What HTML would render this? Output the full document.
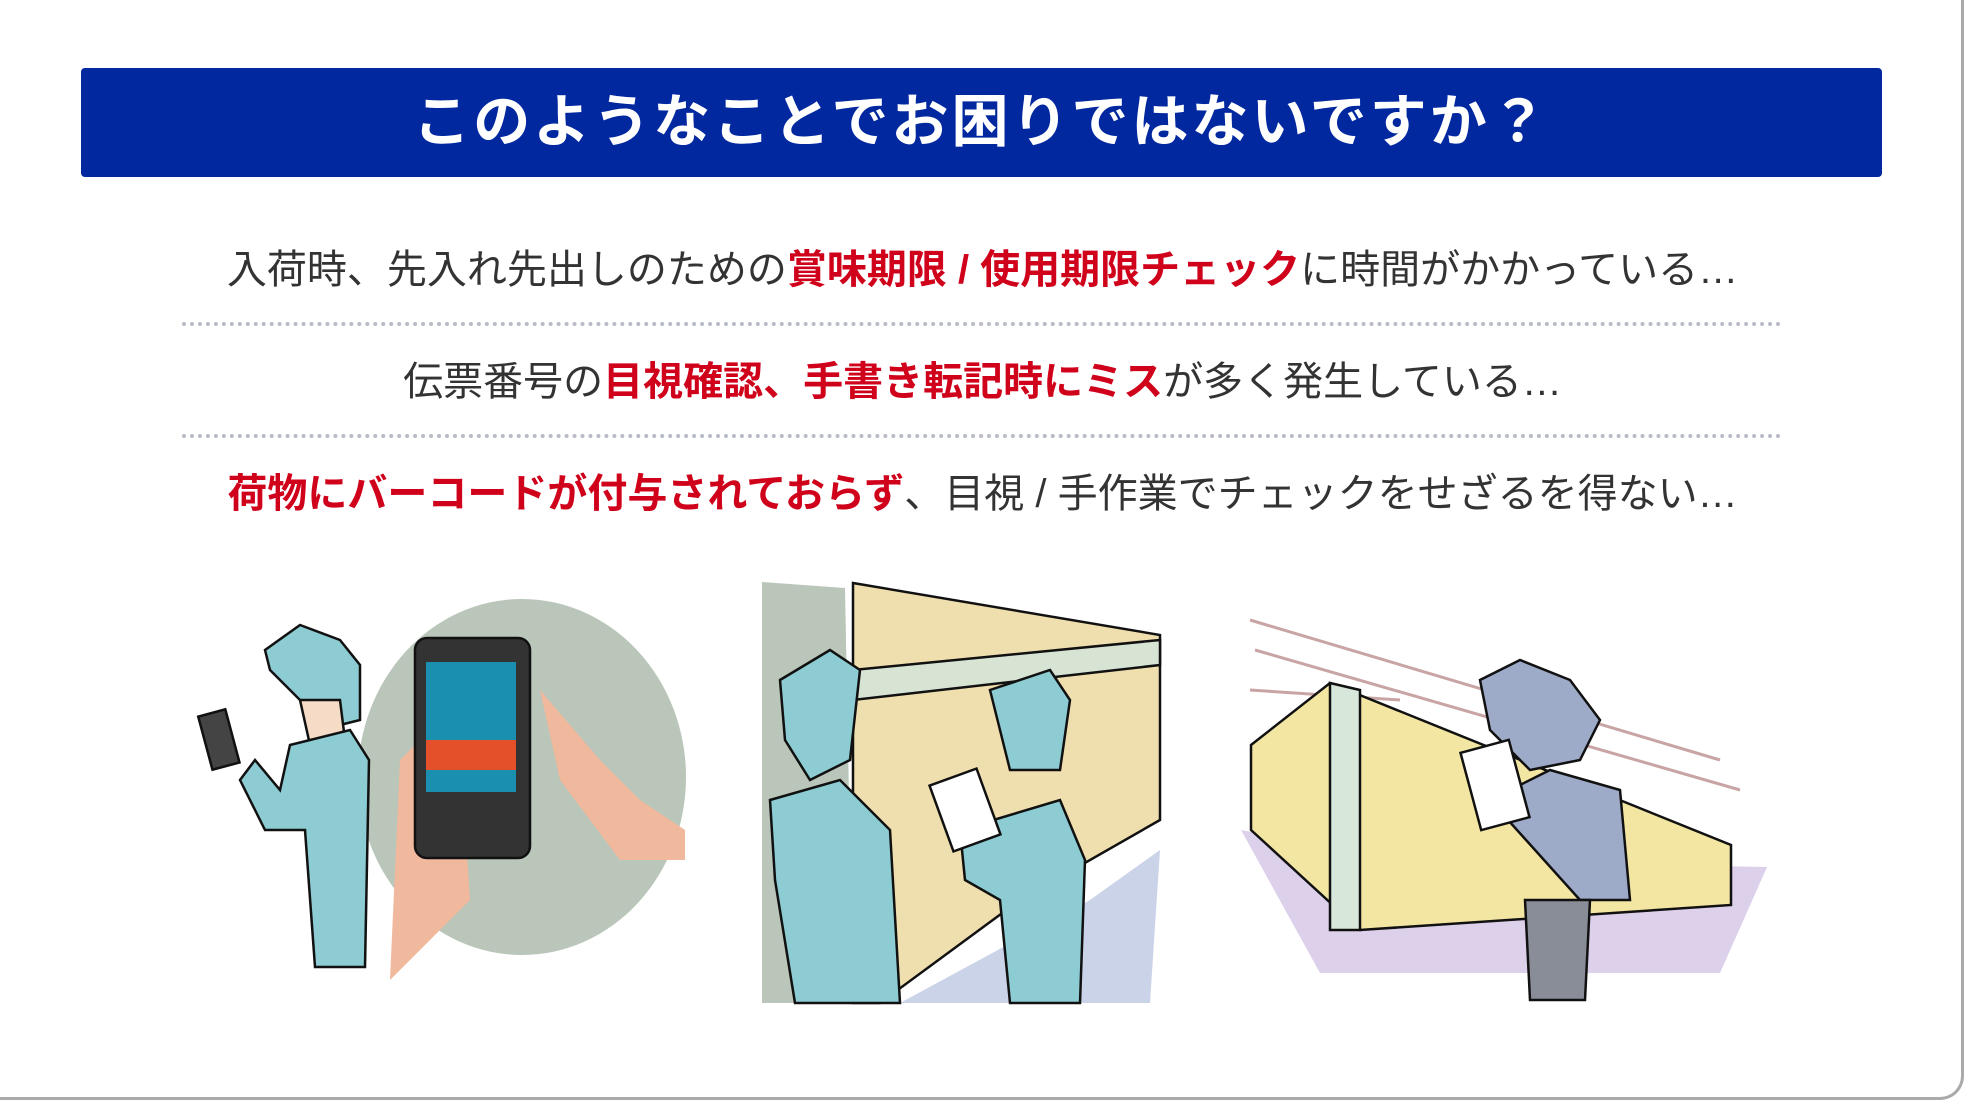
<!DOCTYPE html>
<html><head><meta charset="utf-8"><style>
html,body{margin:0;padding:0;background:#fff;}
body{width:1965px;height:1101px;position:relative;overflow:hidden;font-family:"Liberation Sans","Noto Sans CJK JP",sans-serif;}
.card{position:absolute;left:0;top:0;width:1961px;height:1097px;border-right:3px solid #aaa;border-bottom:3px solid #aaa;border-radius:0 0 24px 0;background:#fff;}
.bar{position:absolute;left:81px;top:68px;width:1801px;height:109px;background:#0228a0;border-radius:4px;color:#fff;font-weight:bold;font-size:57px;text-align:center;line-height:109px;letter-spacing:3px;}
.line{position:absolute;left:0;width:1965px;text-align:center;font-size:40px;color:#333;white-space:nowrap;}
.line b{color:#d0021b;}
.dot{position:absolute;left:182px;width:1600px;border-top:4px dotted #b8bcc4;}
svg{position:absolute;left:0;top:0;}
</style></head><body>
<div class="card"></div>
<div class="bar">このようなことでお困りではないですか？</div>
<div class="line" style="top:237px">入荷時、先入れ先出しのための<b>賞味期限 / 使用期限チェック</b>に時間がかかっている…</div>
<div class="dot" style="top:322px"></div>
<div class="line" style="top:349px">伝票番号の<b>目視確認、手書き転記時にミス</b>が多く発生している…</div>
<div class="dot" style="top:434px"></div>
<div class="line" style="top:461px"><b>荷物にバーコードが付与されておらず</b>、目視 / 手作業でチェックをせざるを得ない…</div>
<svg width="1965" height="1101" stroke="#111" stroke-width="2.5">
<ellipse cx="522" cy="777" rx="164" ry="178" fill="#bac6b9" stroke="none"/>
<path d="M390 980 L400 760 L430 730 L460 750 L470 900 L420 950 Z" fill="#f0b89c" stroke="none"/>
<path d="M540 690 L600 760 L640 800 L685 830 L685 860 L620 860 L560 780 Z" fill="#f0b89c" stroke="none"/>
<rect x="415" y="638" width="115" height="220" rx="12" fill="#333"/>
<rect x="426" y="662" width="90" height="130" fill="#1a8fb0" stroke="none"/>
<rect x="426" y="740" width="90" height="30" fill="#e4502a" stroke="none"/>
<path d="M265 650 L300 625 L340 640 L360 665 L360 720 L320 730 L300 700 L270 670 Z" fill="#8cccd2"/>
<path d="M300 700 L340 700 L345 740 L310 745 Z" fill="#f6dcc6"/>
<path d="M290 745 L350 730 L369 760 L365 967 L315 967 L305 830 L265 830 L240 780 L255 760 L280 790 Z" fill="#8cccd2"/>
<rect x="205" y="712" width="28" height="55" fill="#444" transform="rotate(-15 219 740)"/>
<path d="M762 582 L845 588 L853 1003 L762 1003 Z" fill="#bac6b9" stroke="none"/>
<path d="M853 583 L1160 635 L1160 820 L1020 900 L880 1003 L853 1003 Z" fill="#f0dfae"/>
<path d="M1090 900 L1160 850 L1150 1003 L900 1003 Z" fill="#cbd3e8" stroke="none"/>
<path d="M853 670 L1160 640 L1160 665 L853 700 Z" fill="#d7e4d4"/>
<path d="M780 680 L830 650 L860 670 L850 760 L810 780 L785 740 Z" fill="#8cccd2"/>
<path d="M770 800 L840 780 L890 830 L900 1003 L795 1003 L775 880 Z" fill="#8cccd2"/>
<path d="M990 690 L1050 670 L1070 700 L1060 770 L1010 770 Z" fill="#8cccd2"/>
<path d="M960 830 L1060 800 L1085 860 L1080 1003 L1010 1003 L1000 900 L965 880 Z" fill="#8cccd2"/>
<rect x="940" y="775" width="50" height="70" fill="#fff" transform="rotate(-20 965 810)"/>
<path d="M1241 830 L1400 860 L1767 867 L1720 973 L1320 973 Z" fill="#ddd0ea" stroke="none"/>
<path d="M1250 620 L1720 760 M1255 650 L1740 790 M1250 690 L1400 700" stroke="#c9a4a4" stroke-width="3"/>
<path d="M1251 745 L1330 683 L1731 845 L1731 905 L1360 930 L1251 830 Z" fill="#f2e6a2"/>
<path d="M1330 683 L1360 690 L1360 930 L1330 930 Z" fill="#d7e8da"/>
<path d="M1480 680 L1520 660 L1570 680 L1600 720 L1580 760 L1530 770 L1490 730 Z" fill="#9eabc8"/>
<path d="M1490 800 L1550 770 L1620 790 L1630 900 L1580 900 Z" fill="#9eabc8"/>
<path d="M1525 900 L1590 900 L1585 1000 L1530 1000 Z" fill="#888d98"/>
<rect x="1470" y="745" width="50" height="80" fill="#fff" transform="rotate(-15 1495 785)"/>
</svg>
</body></html>
